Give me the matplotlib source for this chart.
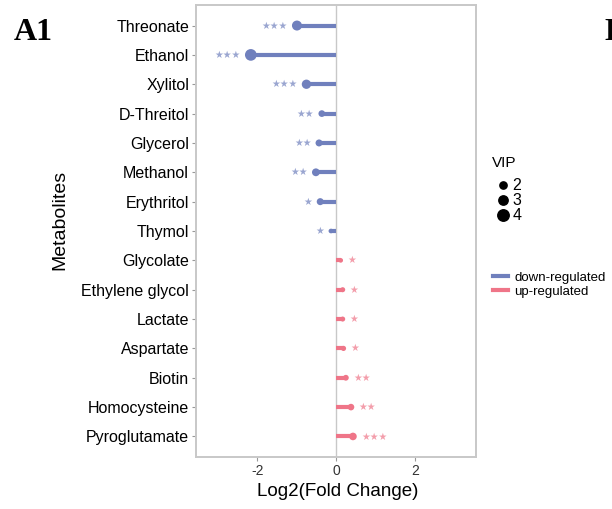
import numpy as np
import matplotlib
matplotlib.use("Agg")
import matplotlib.pyplot as plt
from matplotlib.lines import Line2D

plt.rcParams['font.family'] = ['Liberation Sans', 'DejaVu Sans']

# data
metabolites = ["Threonate", "Ethanol", "Xylitol", "D-Threitol", "Glycerol", "Methanol",
               "Erythritol", "Thymol", "Glycolate", "Ethylene glycol", "Lactate",
               "Aspartate", "Biotin", "Homocysteine", "Pyroglutamate"]
log2fc = [-0.99, -2.16, -0.75, -0.36, -0.43, -0.51, -0.40, -0.13,
          0.12, 0.17, 0.17, 0.19, 0.25, 0.38, 0.43]
vip = [3.5, 4.35, 3.15, 1.85, 2.0, 2.4, 2.0, 0.8,
       0.8, 1.0, 1.0, 1.1, 1.4, 1.8, 2.3]
stars = ["***", "***", "***", "**", "**", "**", "*", "*",
         "*", "*", "*", "*", "**", "**", "***"]
vip_legend = [2, 3, 4]
reg_labels = ["down-regulated", "up-regulated"]

blue = "#7080BD"
pink = "#EF7588"
grey = "#C8C8C8"

def dot_px(v):
    # diameter in pixels for a VIP value
    return 3 + 2 * v

fig = plt.figure(figsize=(6.12, 5.09), dpi=100)
ax = fig.add_axes([196 / 612, 1 - 457 / 509, 280 / 612, 452 / 509])

n = len(metabolites)
ypos = np.arange(n)[::-1]
x = np.array(log2fc)
cols = [blue if v < 0 else pink for v in x]

ax.hlines(ypos, 0, x, colors=cols, linewidth=3.0, zorder=3)
ax.scatter(x, ypos, s=[(dot_px(v) * 0.72) ** 2 for v in vip], c=cols, zorder=4, linewidths=0)

for xi, yi, st, v, c in zip(x, ypos, stars, vip, cols):
    r = dot_px(v) * 0.72 / 2
    if xi < 0:
        ax.annotate(st.replace("*", "\u2605"), (xi, yi), xytext=(-r - 3, 0), textcoords="offset points",
                    ha="right", va="center", fontsize=7, color=c, alpha=0.7,
                    family="DejaVu Sans", zorder=5)
    else:
        ax.annotate(st.replace("*", "\u2605"), (xi, yi), xytext=(r + 3, 0), textcoords="offset points",
                    ha="left", va="center", fontsize=7, color=c, alpha=0.7,
                    family="DejaVu Sans", zorder=5)

ax.axvline(0, color=grey, linewidth=1.0, zorder=1)
ax.set_xlim(-3.55, 3.55)
ax.set_ylim(-0.7, n - 0.3)
ax.set_yticks(ypos)
ax.set_yticklabels(metabolites, fontsize=11.5, color="black")
ax.set_xticks([-2, 0, 2])
ax.set_xticklabels(["-2", "0", "2"], fontsize=10, color="#333333")
ax.tick_params(axis="both", length=3, width=0.8, color="#999999", pad=2)
for sp in ax.spines.values():
    sp.set_color(grey)
    sp.set_linewidth(1.4)

ax.set_xlabel("Log2(Fold Change)", fontsize=13.5)
ax.set_ylabel("Metabolites", fontsize=14)
ax.xaxis.set_label_coords(0.505, -0.058)
ax.yaxis.set_label_coords(-0.457, 0.525)

# VIP size legend
fig.text(492 / 612, 1 - 163 / 509, "VIP", ha="left", va="center", fontsize=11)
h_vip = [Line2D([], [], linestyle="none", marker="o", color="black",
                markersize=dot_px(v) * 0.75) for v in vip_legend]
leg1 = fig.legend(h_vip, [str(v) for v in vip_legend], loc="upper left",
                  bbox_to_anchor=(489 / 612, 1 - 172 / 509), frameon=False,
                  fontsize=11.5, labelspacing=0.0,
                  handlelength=1.0, handletextpad=0.05, borderaxespad=0)
h_reg = [Line2D([], [], color=blue, linewidth=3), Line2D([], [], color=pink, linewidth=3)]
leg2 = fig.legend(h_reg, reg_labels, loc="upper left",
                  bbox_to_anchor=(488 / 612, 1 - 266 / 509), frameon=False,
                  fontsize=9.5, labelspacing=0.15, handlelength=1.1,
                  handletextpad=0.5, borderaxespad=0)

fig.text(14 / 612, 1 - 33 / 509, "A1", ha="left", va="center", fontsize=23,
         fontweight="bold", family="Liberation Serif")
fig.text(604 / 612, 1 - 33 / 509, "B1", ha="left", va="center", fontsize=23,
         fontweight="bold", family="Liberation Serif")

fig.savefig("out.png", dpi=100)
